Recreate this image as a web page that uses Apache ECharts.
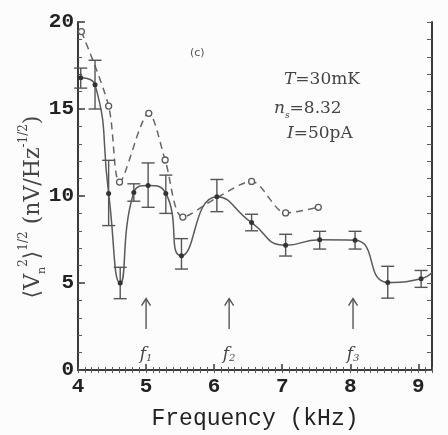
<!DOCTYPE html>
<html>
<head>
<meta charset="utf-8">
<script src="https://cdn.jsdelivr.net/npm/echarts@6/dist/echarts.min.js"></script>
<style>
  html, body { margin: 0; padding: 0; background: #fcfcfc; }
  #chart { width: 448px; height: 435px; }
</style>
</head>
<body>
<div id="chart"></div>
<script>
// Measured spectrum (solid, with error bars)
const freq = [4.04, 4.25, 4.45, 4.62, 4.82, 5.03, 5.29, 5.52, 6.04, 6.55, 7.05, 7.55, 8.07, 8.55, 9.04];
const noise = [16.8, 16.4, 10.15, 5.0, 10.2, 10.6, 10.15, 6.57, 9.96, 8.47, 7.17, 7.48, 7.46, 5.03, 5.25];
const errLow = [16.2, 15.0, 8.3, 4.1, 9.7, 9.35, 9.0, 5.8, 9.1, 8.0, 6.55, 6.95, 6.95, 4.13, 4.75];
const errHigh = [17.35, 17.8, 12.05, 5.9, 10.7, 11.9, 11.2, 7.55, 10.95, 8.95, 7.8, 7.97, 7.97, 5.96, 5.72];
// curve continues to the right frame
const tailFreq = [9.2];
const tailNoise = [5.6];

// Second spectrum (dashed, open circles)
const refFreq = [4.05, 4.45, 4.61, 5.04, 5.28, 5.54, 6.04, 6.55, 7.05, 7.53];
const refNoise = [19.45, 15.17, 10.8, 14.75, 12.07, 8.79, 9.9, 10.84, 9.03, 9.35];

// Resonance markers
const arrowFreq = [5.0, 6.22, 8.04];
const arrowIdx = ['1', '2', '3'];
const arrowTop = 4.1;
const arrowBottom = 2.35;
const arrowLabelY = 0.95;

const xTicks = [4, 5, 6, 7, 8, 9];
const yTicks = [0, 5, 10, 15, 20];

const ink = '#3a3a3a';
const lineCol = '#5a5a5a';
const monoFont = 'Liberation Mono';
const serifFont = 'DejaVu Serif';

const chart = echarts.init(document.getElementById('chart'));

const solidData = freq.map((f, i) => [f, noise[i]])
  .concat(tailFreq.map((f, i) => ({ value: [f, tailNoise[i]], symbol: 'none' })));
const refData = refFreq.map((f, i) => f === 6.04 ? { value: [f, refNoise[i]], symbol: 'none' } : [f, refNoise[i]]);
const errData = freq.map((f, i) => [f, errLow[i], errHigh[i]]);

const hideLabel = { show: false };
const baseX = { type: 'value', min: 4, max: 9.2, splitLine: { show: false }, gridIndex: 0 };
const baseY = { type: 'value', min: 0, max: 20, splitLine: { show: false }, gridIndex: 0 };

const option = {
  backgroundColor: '#fcfcfc',
  animation: false,
  grid: { left: 78, right: 16, top: 22, bottom: 55 },
  xAxis: [
    Object.assign({}, baseX, {
      position: 'bottom', interval: 1,
      axisLine: { lineStyle: { color: ink, width: 2 } },
      axisTick: { inside: true, length: 6, lineStyle: { color: ink, width: 1.5 } },
      axisLabel: {
        color: v => (v === 4 ? '#777' : '#222'),
        fontFamily: monoFont, fontWeight: 'bold', fontSize: 21, margin: 6,
        formatter: v => xTicks.includes(v) ? String(v) : ''
      },
      name: 'Frequency (kHz)', nameLocation: 'middle', nameGap: 37,
      nameTextStyle: { color: '#222', fontFamily: monoFont, fontSize: 23 }
    }),
    Object.assign({}, baseX, {
      position: 'bottom', interval: 0.1,
      axisLine: { show: false },
      axisTick: { inside: true, length: 3, lineStyle: { color: lineCol, width: 1 } },
      axisLabel: hideLabel
    }),
    Object.assign({}, baseX, {
      position: 'top', interval: 0.1,
      axisLine: { lineStyle: { color: ink, width: 2 } },
      axisTick: { inside: true, length: 3, lineStyle: { color: lineCol, width: 1 } },
      axisLabel: hideLabel
    })
  ],
  yAxis: [
    Object.assign({}, baseY, {
      position: 'left', interval: 5,
      axisLine: { lineStyle: { color: ink, width: 2 } },
      axisTick: { inside: true, length: 7, lineStyle: { color: ink, width: 1.5 } },
      axisLabel: {
        color: v => (v === 0 ? '#777' : '#222'),
        fontFamily: monoFont, fontWeight: 'bold', fontSize: 21, margin: 4,
        formatter: v => yTicks.includes(v) ? String(v) : ''
      }
    }),
    Object.assign({}, baseY, {
      position: 'left', interval: 1,
      axisLine: { show: false },
      axisTick: { inside: true, length: 4, lineStyle: { color: lineCol, width: 1 } },
      axisLabel: hideLabel
    }),
    Object.assign({}, baseY, {
      position: 'right', interval: 1,
      axisLine: { lineStyle: { color: ink, width: 2 } },
      axisTick: { inside: true, length: 5, lineStyle: { color: lineCol, width: 1 } },
      axisLabel: hideLabel
    })
  ],
  series: [
    {
      type: 'line', data: refData, smooth: 0.3,
      symbol: 'circle', symbolSize: 6,
      itemStyle: { color: '#fcfcfc', borderColor: lineCol, borderWidth: 1.3 },
      lineStyle: { color: '#666', width: 1.5, type: [7, 5] },
      z: 2
    },
    {
      type: 'custom', data: errData, z: 3,
      renderItem: (params, api) => {
        const x = api.value(0);
        const lo = api.coord([x, api.value(1)]);
        const hi = api.coord([x, api.value(2)]);
        const w = 6.5;
        const st = { stroke: '#555', lineWidth: 1.4 };
        return {
          type: 'group',
          children: [
            { type: 'line', shape: { x1: lo[0], y1: lo[1], x2: hi[0], y2: hi[1] }, style: st },
            { type: 'line', shape: { x1: lo[0] - w, y1: lo[1], x2: lo[0] + w, y2: lo[1] }, style: st },
            { type: 'line', shape: { x1: hi[0] - w, y1: hi[1], x2: hi[0] + w, y2: hi[1] }, style: st }
          ]
        };
      }
    },
    {
      type: 'line', data: solidData, smooth: 0.55,
      symbol: 'circle', symbolSize: 5,
      itemStyle: { color: '#333' },
      lineStyle: { color: lineCol, width: 1.5 },
      z: 4
    },
    {
      type: 'custom', data: arrowFreq.map((f, i) => [f, i]), z: 3,
      renderItem: (params, api) => {
        const x = api.value(0);
        const top = api.coord([x, arrowTop]);
        const bot = api.coord([x, arrowBottom]);
        const lab = api.coord([x, arrowLabelY]);
        const st = { stroke: '#555', lineWidth: 1.4, fill: null };
        return {
          type: 'group',
          children: [
            { type: 'line', shape: { x1: top[0], y1: top[1], x2: bot[0], y2: bot[1] }, style: st },
            { type: 'polyline', shape: { points: [[top[0] - 4.5, top[1] + 7], [top[0], top[1]], [top[0] + 4.5, top[1] + 7]] }, style: st },
            {
              type: 'text', x: lab[0], y: lab[1],
              style: {
                text: '{f|f}{s|' + arrowIdx[api.value(1)] + '}',
                align: 'center', verticalAlign: 'middle',
                rich: {
                  f: { fontFamily: serifFont, fontStyle: 'italic', fontSize: 17, fill: '#444', lineHeight: 20, verticalAlign: 'bottom' },
                  s: { fontFamily: serifFont, fontStyle: 'italic', fontSize: 10, fill: '#444', lineHeight: 20, verticalAlign: 'bottom' }
                }
              }
            }
          ]
        };
      }
    }
  ],
  graphic: [
    {
      type: 'text', left: 190, top: 48,
      style: { text: '(c)', fontFamily: 'DejaVu Sans', fontSize: 11, fill: '#555' }
    },
    {
      type: 'text', left: 284, top: 71,
      style: {
        text: '{i|T}{r|=30mK}',
        rich: {
          i: { fontFamily: serifFont, fontStyle: 'italic', fontSize: 17, fill: '#444' },
          r: { fontFamily: serifFont, fontSize: 17, fill: '#444' }
        }
      }
    },
    {
      type: 'text', left: 274, top: 100,
      style: {
        text: '{i|n}{s|s}{r|=8.32}',
        rich: {
          i: { fontFamily: serifFont, fontStyle: 'italic', fontSize: 17, fill: '#444', lineHeight: 24, verticalAlign: 'middle' },
          s: { fontFamily: serifFont, fontStyle: 'italic', fontSize: 9, fill: '#444', lineHeight: 24, verticalAlign: 'bottom' },
          r: { fontFamily: serifFont, fontSize: 17, fill: '#444', lineHeight: 24, verticalAlign: 'middle' }
        }
      }
    },
    {
      type: 'text', left: 287, top: 125,
      style: {
        text: '{i|I}{r|=50pA}',
        rich: {
          i: { fontFamily: serifFont, fontStyle: 'italic', fontSize: 17, fill: '#444' },
          r: { fontFamily: serifFont, fontSize: 17, fill: '#444' }
        }
      }
    },
    {
      type: 'text', x: 33, y: 207, rotation: Math.PI / 2,
      style: {
        text: '{a|\u27E8V}{sub|n}{sup|2}{a|\u27E9}{sup|1/2}{a| (nV/Hz}{sup|-1/2}{a|)}',
        align: 'center', verticalAlign: 'middle',
        rich: {
          a: { fontFamily: serifFont, fontSize: 22, fill: '#444', lineHeight: 30, verticalAlign: 'middle' },
          sub: { fontFamily: serifFont, fontSize: 11, fill: '#444', lineHeight: 30, verticalAlign: 'bottom' },
          sup: { fontFamily: serifFont, fontSize: 12, fill: '#444', lineHeight: 30, verticalAlign: 'top' }
        }
      }
    }
  ]
};

chart.setOption(option);
window.addEventListener('resize', () => chart.resize());
</script>
</body>
</html>
